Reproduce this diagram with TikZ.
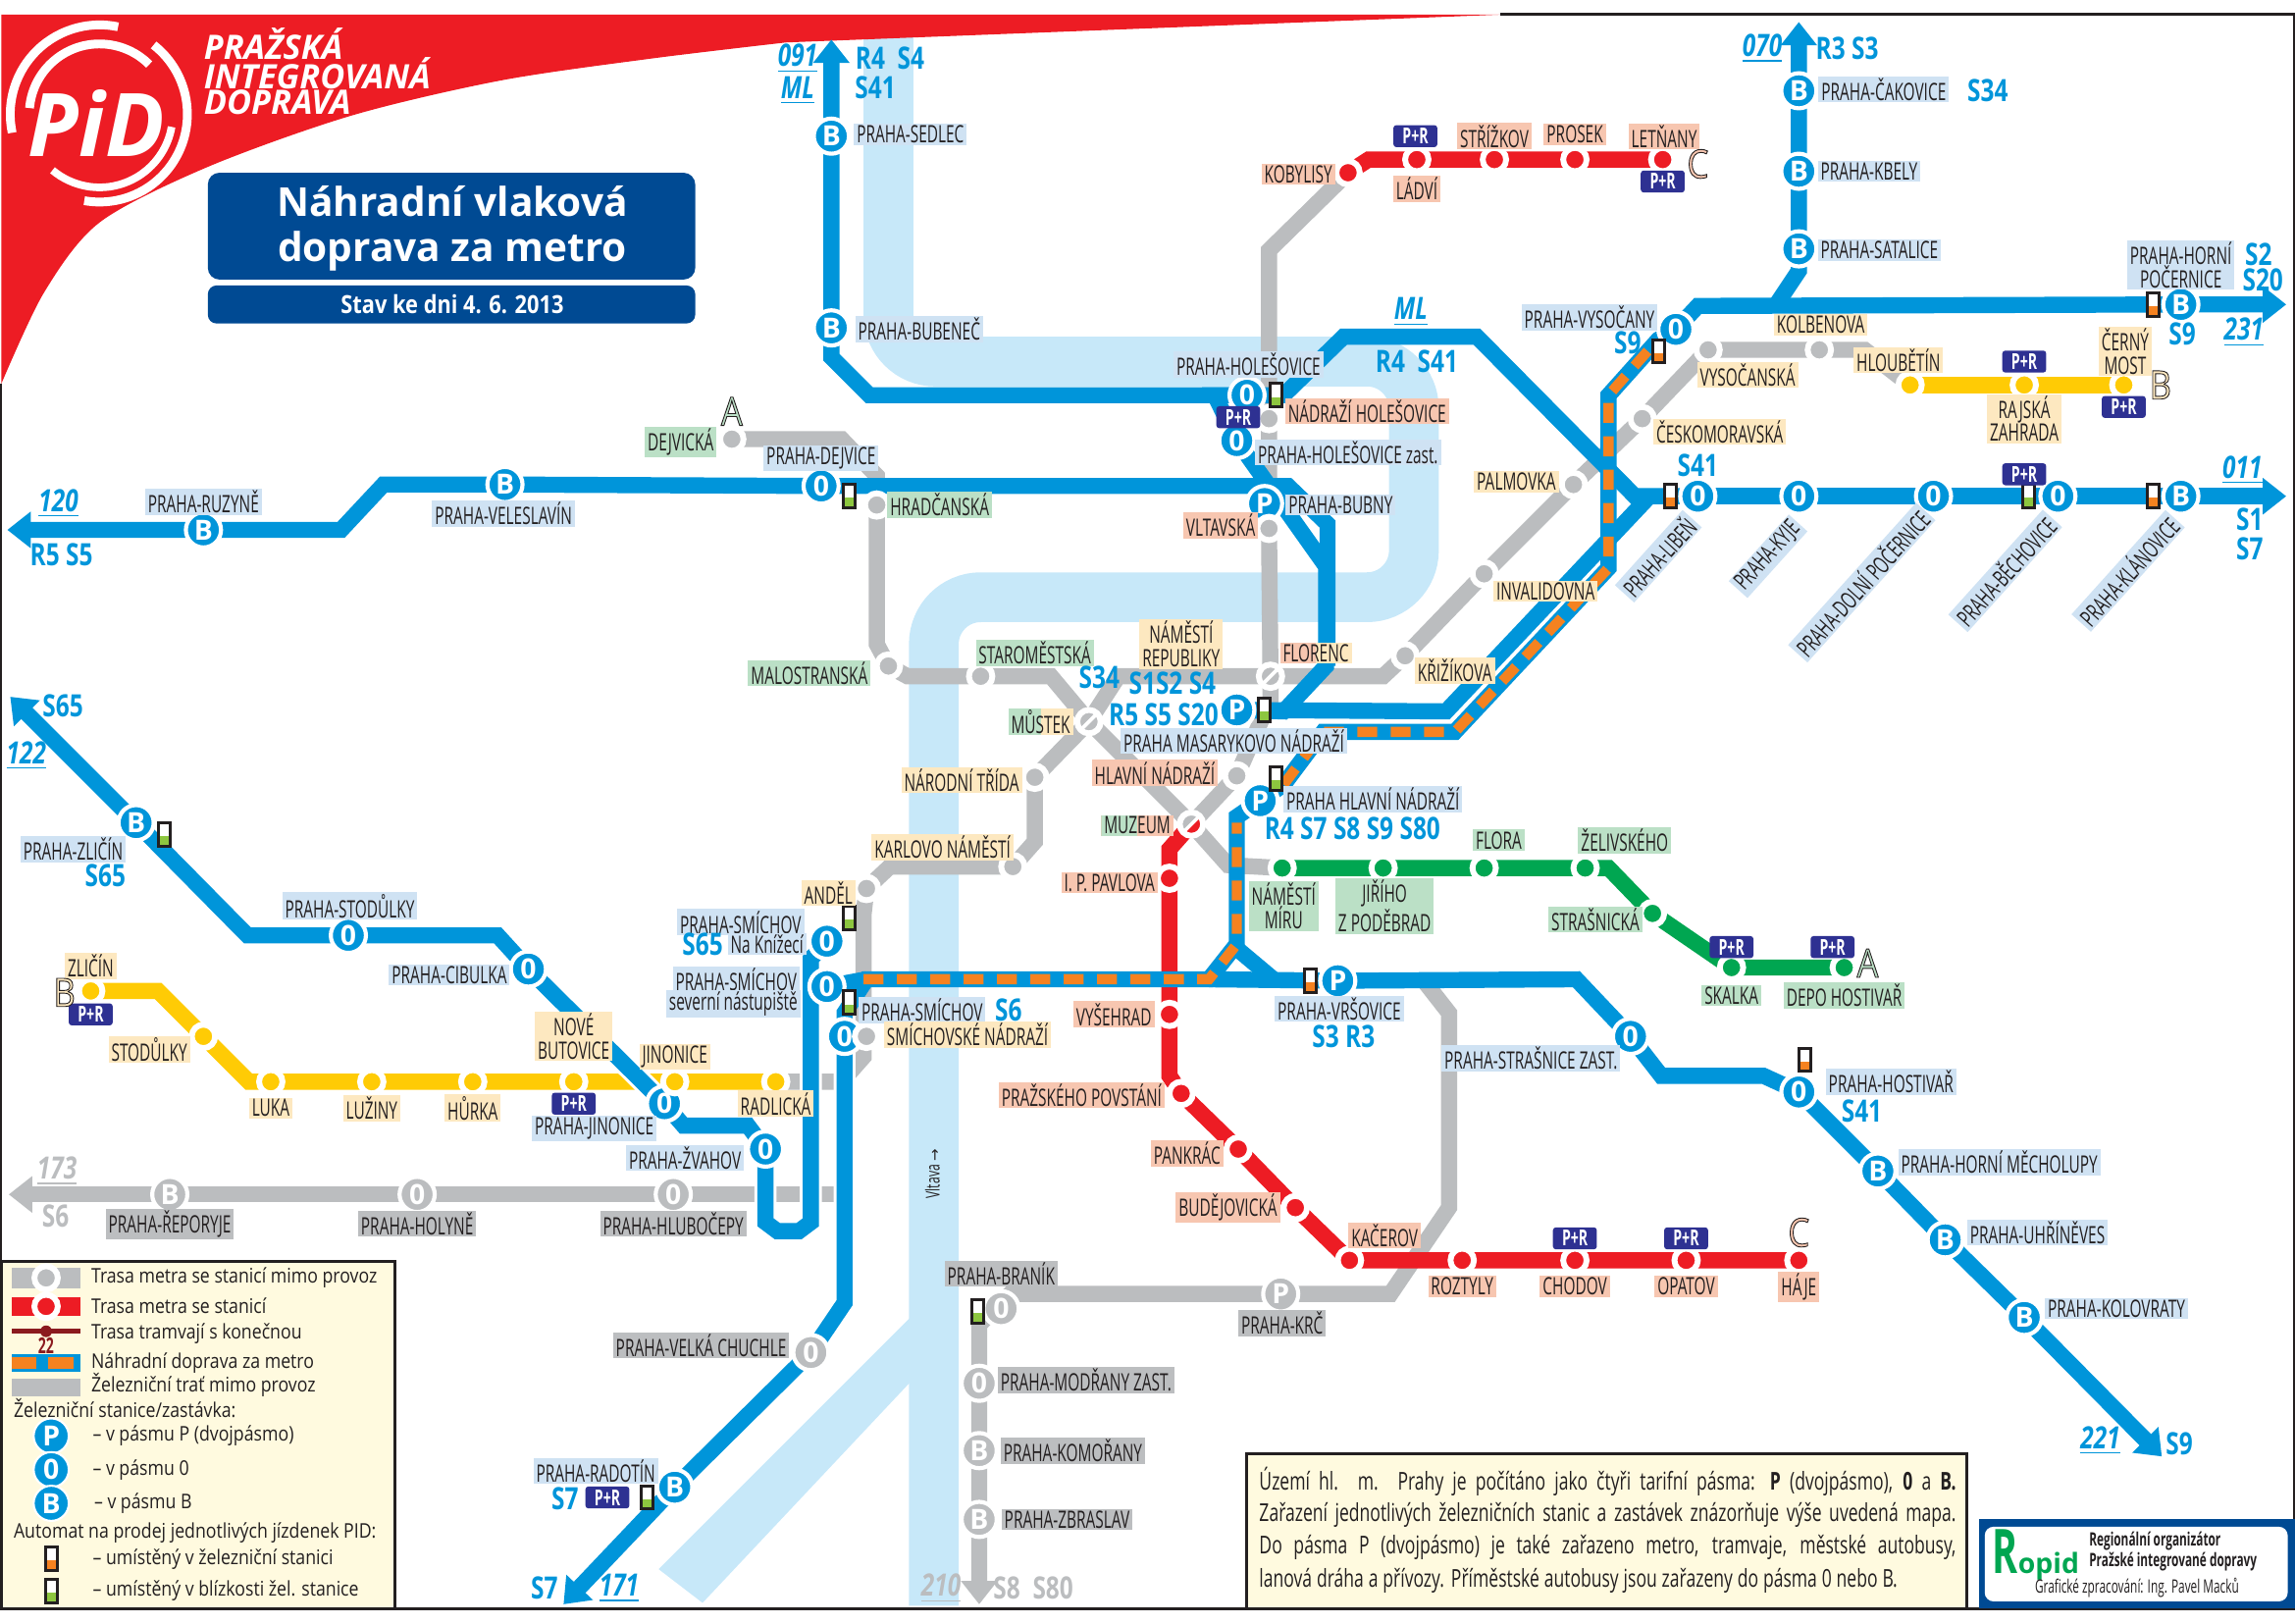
\documentclass[tikz,border=0pt]{standalone}
\usepackage{fontspec}
\usetikzlibrary{arrows.meta}
\setmainfont{Open Sans}
\newfontfamily\lblf[FakeStretch=0.63]{Open Sans}
\newfontfamily\bnf[FakeStretch=0.78]{Open Sans}
\newfontfamily\lgdf[FakeStretch=0.86]{Open Sans}
\newfontfamily\infof[FakeStretch=0.7]{Open Sans}
\newfontfamily\djvf{DejaVu Sans}
\definecolor{lblue}{HTML}{0095DA}
\definecolor{lgray}{HTML}{BBBDBF}
\definecolor{lred}{HTML}{ED1C24}
\definecolor{lyel}{HTML}{FFCB05}
\definecolor{lgrn}{HTML}{00A651}
\definecolor{lora}{HTML}{F58220}
\definecolor{lolv}{HTML}{8DC63F}
\definecolor{river}{HTML}{C7E8F9}
\definecolor{navy}{HTML}{004A93}
\definecolor{prbl}{HTML}{2E3192}
\definecolor{tblu}{HTML}{CFE2F3}
\definecolor{tgry}{HTML}{BCBEC0}
\definecolor{tsal}{HTML}{F7C6B0}
\definecolor{tyel}{HTML}{FDE8C0}
\definecolor{tgrn}{HTML}{BBE0C6}
\definecolor{cream}{HTML}{FFFADF}
\definecolor{ink}{HTML}{231F20}
\definecolor{tram}{HTML}{8B1A1E}
\newcommand{\outl}[1]{\special{pdf:code 2 Tr 0.3 w 0.14 0.12 0.12 RG}#1\special{pdf:code 0 Tr}}
\pgfdeclarelayer{baselayer}
\pgfdeclarelayer{linelayer}
\pgfsetlayers{baselayer,linelayer,main}
\tikzset{
 lab/.style={inner xsep=1pt,inner ysep=0.6pt,text=ink,align=center,
   font=\lblf\fontsize{8.2}{8}\selectfont},
 lr/.style={lab,fill=tblu},
 lg/.style={lab,fill=tgry},
 ls/.style={lab,fill=tsal},
 ly/.style={lab,fill=tyel},
 lv/.style={lab,fill=tgrn},
 ltwo/.style 2 args={lab,fill=#2,path picture={\fill[#1] (path picture bounding box.south west) rectangle (path picture bounding box.north);}},
 zn/.style={circle,fill=lblue,draw=white,line width=1.4pt,minimum size=12pt,inner sep=0,text=white,
   font=\bfseries\fontsize{9.5}{9.5}\selectfont},
 zg/.style={zn,fill=lgray},
 ms/.style={circle,draw=white,line width=2pt,minimum size=8pt,inner sep=0,fill=#1},
 mx/.style={ms=lgray,path picture={\draw[white,line width=1.2pt] (path picture bounding box.south west) -- (path picture bounding box.north east);}},
 aut/.style={rectangle,draw=ink,line width=1pt,fill=white,minimum width=4pt,minimum height=8pt,inner sep=0,
   path picture={\fill[#1] (path picture bounding box.south west) rectangle ([yshift=3.4pt]path picture bounding box.south east);}},
 pr/.style={rectangle,rounded corners=1pt,fill=prbl,text=white,minimum width=15pt,minimum height=7.5pt,inner sep=0,
   font=\lblf\bfseries\fontsize{7.5}{7.5}\selectfont},
 bn/.style={text=lblue,inner sep=0,font=\bnf\bfseries\fontsize{10.5}{10.5}\selectfont},
 gn/.style={bn,text=lgray},
 zone/.style={text=#1,inner sep=0,font=\lgdf\fontsize{13.5}{13.5}\selectfont},
 rail/.style={draw=#1,line width=5.5pt,line join=miter,miter limit=4},
 drail/.style={rail=lblue},
 cased/.style={preaction={draw=white,line width=7.5pt}},
 tipb/.style={-{Triangle[length=8pt,width=12pt]}},
 odash/.style={draw=lora,line width=3.5pt,dash pattern=on 6.8pt off 4.6pt},
 lgt/.style={anchor=west,inner sep=0,text=ink,font=\lgdf\fontsize{6.9}{6.9}\selectfont},
 hdr/.style={anchor=west,text=white,inner sep=0,font=\bfseries\itshape\fontsize{11.5}{11.5}\selectfont},
}
\begin{document}
\begin{tikzpicture}[x=0.5pt,y=-0.5pt]
\useasboundingbox (0,0) rectangle (1568,1108.8);
% ---------- arrow tips and free ends
\coordinate (t091) at (568,27);
\coordinate (t070) at (1229,15);
\coordinate (t231) at (1562,208);
\coordinate (t011) at (1562,339);
\coordinate (t120) at (5,362);
\coordinate (t122) at (7,476);
\coordinate (t173) at (6,816);
\coordinate (t221) at (1477,995);
\coordinate (t171) at (385,1096);
\coordinate (t210) at (669,1096);
% ---------- zone stations
\node[zn] (sedlec) at (568,93) {B};
\node[zn] (bubenec) at (568,224) {B};
\node[zn] (ruzyne) at (139,362) {B};
\node[zn] (velesl) at (345,331) {B};
\node[zn] (dejvice) at (561,332) {0};
\node[zn] (holes) at (852,270) {0};
\node[zn] (holesz) at (845,301) {0};
\node[zn] (bubny) at (864,344) {P};
\node[zn] (vysoc) at (1145,225) {0};
\node[zn] (cakov) at (1229,62) {B};
\node[zn] (kbely) at (1229,117) {B};
\node[zn] (satal) at (1229,170) {B};
\node[zn] (pocern) at (1490,208) {B};
\node[zn] (liben) at (1160,339) {0};
\node[zn] (kyje) at (1229,339) {0};
\node[zn] (dolni) at (1321,339) {0};
\node[zn] (bech) at (1406,339) {0};
\node[zn] (klan) at (1490,339) {B};
\node[zn] (masar) at (845,485) {P};
\node[zn] (hlavni) at (861,547) {P};
\node[zn] (vrsov) at (914,670) {P};
\node[zn] (strasz) at (1114,708) {0};
\node[zn] (hostiv) at (1229,746) {0};
\node[zn] (mechol) at (1283,800) {B};
\node[zn] (uhrin) at (1329,847) {B};
\node[zn] (kolov) at (1383,900) {B};
\node[zn] (zlicr) at (93,562) {B};
\node[zn] (stodr) at (238,639) {0};
\node[zn] (cibul) at (361,662) {0};
\node[zn] (jinon) at (454,754) {0};
\node[zn] (zvahov) at (523,785) {0};
\node[zn] (smkn) at (565,643) {0};
\node[zn] (smsev) at (565,674) {0};
\node[zn] (smnad) at (577,708) {0};
\node[zn] (radot) at (461,1016) {B};
\node[zg] (velch) at (554,924) {0};
\node[zg] (repor) at (116,816) {B};
\node[zg] (holyne) at (285,816) {0};
\node[zg] (hlub) at (460,816) {0};
\node[zg] (branik) at (684,894) {0};
\node[zg] (krc) at (875,884) {P};
\node[zg] (modr) at (669,945) {0};
\node[zg] (komor) at (669,991) {B};
\node[zg] (zbras) at (669,1038) {B};
% ---------- metro stops
\node[ms=lgray] (dejv) at (500,300) {};
\node[ms=lgray] (hradc) at (599,345) {};
\node[ms=lgray] (malos) at (607,455) {};
\node[ms=lgray] (starom) at (670,462) {};
\node[mx] (mustek) at (744,493) {};
\node[mx,path picture={\fill[lred] (path picture bounding box.south west) -- (path picture bounding box.north east) -- (path picture bounding box.south east) -- cycle;\draw[white,line width=1.2pt] (path picture bounding box.south west) -- (path picture bounding box.north east);}] (muzeum) at (814,563) {};
\node[mx] (florenc) at (868,462) {};
\node[ms=lgray] (hlnadr) at (845,530) {};
\node[ms=lgray] (narod) at (707,531) {};
\node[ms=lgray] (karlovo) at (692,592) {};
\node[ms=lgray] (andel) at (592,607) {};
\node[ms=lgray] (smichn) at (592,708) {};
\node[ms=lgray] (kriz) at (960,448) {};
\node[ms=lgray] (inval) at (1014,392) {};
\node[ms=lgray] (palm) at (1075,331) {};
\node[ms=lgray] (ceskom) at (1122,286) {};
\node[ms=lgray] (vysocan) at (1167,239) {};
\node[ms=lgray] (kolben) at (1243,239) {};
\node[ms=lgray] (nadrh) at (867,286) {};
\node[ms=lgray] (vltav) at (867,361) {};
\node[ms=lred] (kobyl) at (921,118) {};
\node[ms=lred] (ladvi) at (968,109) {};
\node[ms=lred] (strizk) at (1021,109) {};
\node[ms=lred] (prosek) at (1076,109) {};
\node[ms=lred] (letn) at (1136,109) {};
\node[ms=lred] (pavl) at (799,600) {};
\node[ms=lred] (vyseh) at (799,693) {};
\node[ms=lred] (povst) at (807,747) {};
\node[ms=lred] (pankr) at (846,785) {};
\node[ms=lred] (budej) at (885,825) {};
\node[ms=lred] (kacer) at (922,861) {};
\node[ms=lred] (rozt) at (999,861) {};
\node[ms=lred] (chod) at (1076,861) {};
\node[ms=lred] (opat) at (1152,861) {};
\node[ms=lred] (haje) at (1229,861) {};
\node[ms=lyel] (hloub) at (1305,263) {};
\node[ms=lyel] (rajs) at (1383,263) {};
\node[ms=lyel] (cerny) at (1451,263) {};
\node[ms=lyel] (zlicm) at (62,677) {};
\node[ms=lyel] (stodm) at (139,708) {};
\node[ms=lyel] (luka) at (185,739) {};
\node[ms=lyel] (luz) at (254,739) {};
\node[ms=lyel] (hurka) at (323,739) {};
\node[ms=lyel] (nbut) at (392,739) {};
\node[ms=lyel] (jinm) at (461,739) {};
\node[ms=lyel] (radl) at (530,739) {};
\node[ms=lgrn] (nmir) at (876,593) {};
\node[ms=lgrn] (jirih) at (945,593) {};
\node[ms=lgrn] (flora) at (1014,593) {};
\node[ms=lgrn] (zeliv) at (1083,593) {};
\node[ms=lgrn] (strasn) at (1129,624) {};
\node[ms=lgrn] (skalka) at (1183,661) {};
\node[ms=lgrn] (depo) at (1260,661) {};
% ---------- base: river, red corner
\begin{pgfonlayer}{baselayer}
\draw[river,line width=17pt,rounded corners=16pt] (607,20) -- (607,247) -- (966,247) -- (966,408) -- (638,408) -- (638,1097);
\fill[river] (622,900) -- (640,925) -- (480,1095) -- (450,1072) -- cycle;
\fill[lred] (1,10) -- (1025,10) -- plot[smooth] coordinates {(537,29) (445,40) (342,55) (240,79) (142,114) (68,152) (30,200) (1,262)} -- cycle;
\draw[ink,line width=1pt] (1025,9.5) -- (1567.5,9.5) -- (1567.5,1099) -- (0.5,1099) -- (0.5,262);
\end{pgfonlayer}
% ---------- lines
\begin{pgfonlayer}{linelayer}
% gray
\draw[rail=lgray,-{Triangle[length=8pt,width=12pt]}] (hlub.center) -- (holyne.center) -- (repor.center) -- (t173);
\draw[rail=lgray] (hlub.center) -- (571,816);
\draw[rail=lgray] (dejv.center) -- (575,300) -- (599,325) -- (hradc.center) -- (599,440) -- (malos.center) -- (620,462) -- (starom.center) -- (718,462) -- (mustek.center) -- (muzeum.center) -- (839,591) -- (nmir.center);
\draw[rail=lgray] (radl.center) -- (575,739) -- (590,722) -- (590,625) -- (andel.center) -- (608,592) -- (karlovo.center) -- (707,575) -- (narod.center) -- (mustek.center) -- (764,462) -- (florenc.center) -- (945,462) -- (kriz.center) -- (inval.center) -- (palm.center) -- (ceskom.center) -- (vysocan.center) -- (kolben.center) -- (1274,239) -- (hloub.center);
\draw[rail=lgray] (kobyl.center) -- (867,171) -- (nadrh.center) -- (vltav.center) -- (florenc.center) -- (868,478) -- (hlnadr.center) -- (muzeum.center);
\draw[rail=lgray,-{Triangle[length=8pt,width=12pt]}] (972,669) -- (990,692) -- (990,825) -- (950,884) -- (krc.center) -- (690,884) -- (669,905) -- (modr.center) -- (komor.center) -- (zbras.center) -- (t210);
% yellow, green, red
\draw[rail=lyel] (zlicm.center) -- (108,677) -- (stodm.center) -- (170,739) -- (luka.center) -- (luz.center) -- (hurka.center) -- (nbut.center) -- (jinm.center) -- (radl.center);
\draw[rail=lyel] (hloub.center) -- (rajs.center) -- (cerny.center);
\draw[rail=lgrn] (nmir.center) -- (jirih.center) -- (flora.center) -- (zeliv.center) -- (1099,593) -- (strasn.center) -- (skalka.center) -- (depo.center);
\draw[rail=lred] (kobyl.center) -- (935,109) -- (ladvi.center) -- (strizk.center) -- (prosek.center) -- (letn.center);
\draw[rail=lred] (muzeum.center) -- (799,580) -- (pavl.center) -- (vyseh.center) -- (799,735) -- (povst.center) -- (pankr.center) -- (budej.center) -- (kacer.center) -- (rozt.center) -- (chod.center) -- (opat.center) -- (haje.center);
% blue
\draw[drail,tipb,cased] (zlicr.center) -- (t122);
\draw[drail,cased] (zlicr.center) -- (169,639) -- (stodr.center) -- (340,639) -- (cibul.center) -- (jinon.center) -- (467,769) -- (511,769) -- (zvahov.center) -- (523,835) -- (531,841) -- (546,841) -- (554,835) -- (554,655) -- (smkn.center);
\draw[drail,tipb] (holes.center) -- (594,270) -- (568,244) -- (bubenec.center) -- (sedlec.center) -- (t091);
\draw[drail,tipb] (907,455) -- (907,358) -- (880,332) -- (dejvice.center) -- (velesl.center) -- (262,331) -- (233,362) -- (ruzyne.center) -- (t120);
\draw[drail] (holes.center) -- (830,270) -- (holesz.center) -- (906,387) -- (906,455) -- (877,486) -- (masar.center);
\draw[drail] (masar.center) -- (988,486) -- (1127,339);
\draw[drail] (holes.center) -- (877,270) -- (918,230) -- (1009,230) -- (1117,339) -- (liben.center);
\draw[drail,tipb] (liben.center) -- (kyje.center) -- (dolni.center) -- (bech.center) -- (klan.center) -- (t011);
\draw[drail,tipb] (vysoc.center) -- (1160,209) -- (pocern.center) -- (t231);
\draw[drail,tipb] (1213,209) -- (1229,185) -- (satal.center) -- (kbely.center) -- (cakov.center) -- (t070);
\draw[drail,tipb,cased] (smnad.center) -- (577,890) -- (velch.center) -- (radot.center) -- (t171);
\draw[drail] (smnad.center) -- (577,692) -- (592,669) -- (826,669) -- (845,645) -- (845,558) -- (hlavni.center);
\draw[drail] (smsev.center) -- (592,669);
\draw[drail] (845,648) -- (870,669);
\draw[drail,tipb] (826,669) -- (vrsov.center) -- (1077,669) -- (strasz.center) -- (1135,735) -- (1205,735) -- (hostiv.center) -- (mechol.center) -- (uhrin.center) -- (kolov.center) -- (t221);
\draw[drail] (hlavni.center) -- (877,536) -- (904,500) -- (994,500) -- (1099,388) -- (1099,270) -- (1133,232) -- (vysoc.center);
% orange dashes
\draw[odash] (590,669) -- (826,669) -- (845,645) -- (845,562);
\draw[odash] (877,536) -- (904,500) -- (994,500) -- (1099,388) -- (1099,270) -- (1130,235);
\end{pgfonlayer}
% ---------- vending machines
\node[aut=lolv] (a1) at (580,339) {};
\node[aut=lolv] (a2) at (872,270) {};
\node[aut=lora] (a3) at (1133,240) {};
\node[aut=lora] (a4) at (1141,339) {};
\node[aut=lolv] (a5) at (1386,339) {};
\node[aut=lora] (a6) at (1471,339) {};
\node[aut=lora] (a7) at (1471,208) {};
\node[aut=lolv] (a8) at (864,485) {};
\node[aut=lolv] (a9) at (872,532) {};
\node[aut=lora] (a10) at (895,670) {};
\node[aut=lora] (a11) at (1233,724) {};
\node[aut=lolv] (a12) at (112,570) {};
\node[aut=lolv] (a13) at (580,627) {};
\node[aut=lolv] (a14) at (580,685) {};
\node[aut=lolv] (a15) at (668,896) {};
\node[aut=lolv] (a16) at (442,1023) {};
% ---------- P+R
\node[pr] (p1) at (967,93) {P+R};
\node[pr] (p2) at (1136,124) {P+R};
\node[pr] (p3) at (1383,247) {P+R};
\node[pr] (p4) at (1451,278) {P+R};
\node[pr] (p5) at (846,285) {P+R};
\node[pr] (p6) at (1383,324) {P+R};
\node[pr] (p7) at (1183,647) {P+R};
\node[pr] (p8) at (1252,647) {P+R};
\node[pr] (p9) at (62,693) {P+R};
\node[pr] (p10) at (392,754) {P+R};
\node[pr] (p11) at (1076,846) {P+R};
\node[pr] (p12) at (1152,846) {P+R};
\node[pr] (p13) at (415,1023) {P+R};
% ---------- railway labels
\node[lr] (l1) at (622,92) {PRAHA-SEDLEC};
\node[lr] (l2) at (628,225) {PRAHA-BUBENEČ};
\node[lr] (l3) at (139,343) {PRAHA-RUZYNĚ};
\node[lr] (l4) at (344,351) {PRAHA-VELESLAVÍN};
\node[lr] (l5) at (561,313) {PRAHA-DEJVICE};
\node[lr] (l6) at (853,249) {PRAHA-HOLEŠOVICE};
\node[lr] (l7) at (921,309) {PRAHA-HOLEŠOVICE zast.};
\node[lr] (l8) at (916,345) {PRAHA-BUBNY};
\node[lr] (l9) at (1086,217) {PRAHA-VYSOČANY};
\node[lr] (l10) at (1287,61) {PRAHA-ČAKOVICE};
\node[lr] (l11) at (1277,117) {PRAHA-KBELY};
\node[lr] (l12) at (1284,171) {PRAHA-SATALICE};
\node[lr] (l13) at (1490,181) {PRAHA-HORNÍ\\POČERNICE};
\node[lr,rotate=48] (l14) at (1133,380) {PRAHA-LIBEŇ};
\node[lr,rotate=48] (l15) at (1208,380) {PRAHA-KYJE};
\node[lr,rotate=48] (l16) at (1272,398) {PRAHA-DOLNÍ POČERNICE};
\node[lr,rotate=48] (l17) at (1370,390) {PRAHA-BĚCHOVICE};
\node[lr,rotate=48] (l18) at (1454,390) {PRAHA-KLÁNOVICE};
\node[lr] (l19) at (843,506) {PRAHA MASARYKOVO NÁDRAŽÍ};
\node[lr] (l20) at (938,546) {PRAHA HLAVNÍ NÁDRAŽÍ};
\node[lr] (l21) at (915,689) {PRAHA-VRŠOVICE};
\node[lr] (l22) at (1046,723) {PRAHA-STRAŠNICE ZAST.};
\node[lr] (l23) at (1292,739) {PRAHA-HOSTIVAŘ};
\node[lr] (l24) at (1366,794) {PRAHA-HORNÍ MĚCHOLUPY};
\node[lr] (l25) at (1392,842) {PRAHA-UHŘÍNĚVES};
\node[lr] (l26) at (1446,894) {PRAHA-KOLOVRATY};
\node[lr] (l27) at (506,630) {PRAHA-SMÍCHOV};
\node[lr] (l28) at (524,645) {Na Knížecí};
\node[lr] (l29) at (503,669) {PRAHA-SMÍCHOV};
\node[lr] (l30) at (501,686) {severní nástupiště};
\node[lr] (l31) at (630,690) {PRAHA-SMÍCHOV};
\node[lr] (l32) at (50,580) {PRAHA-ZLIČÍN};
\node[lr] (l33) at (239,619) {PRAHA-STODŮLKY};
\node[lr] (l34) at (307,666) {PRAHA-CIBULKA};
\node[lr] (l35) at (406,771) {PRAHA-JINONICE};
\node[lr] (l36) at (468,791) {PRAHA-ŽVAHOV};
\node[lr] (l37) at (407,1005) {PRAHA-RADOTÍN};
% ---------- out of service railway labels
\node[lg] (g1) at (479,919) {PRAHA-VELKÁ CHUCHLE};
\node[lg] (g2) at (684,870) {PRAHA-BRANÍK};
\node[lg] (g3) at (876,904) {PRAHA-KRČ};
\node[lg] (g4) at (742,943) {PRAHA-MODŘANY ZAST.};
\node[lg] (g5) at (733,991) {PRAHA-KOMOŘANY};
\node[lg] (g6) at (729,1038) {PRAHA-ZBRASLAV};
\node[lg] (g7) at (116,836) {PRAHA-ŘEPORYJE};
\node[lg] (g8) at (285,836) {PRAHA-HOLYNĚ};
\node[lg] (g9) at (460,836) {PRAHA-HLUBOČEPY};
% ---------- metro labels
\node[ls] (m1) at (887,119) {KOBYLISY};
\node[ls] (m2) at (968,129) {LÁDVÍ};
\node[ls] (m3) at (1021,93) {STŘÍŽKOV};
\node[ls] (m4) at (1076,92) {PROSEK};
\node[ls] (m5) at (1137,93) {LETŇANY};
\node[ls] (m6) at (934,281) {NÁDRAŽÍ HOLEŠOVICE};
\node[ls] (m7) at (834,359) {VLTAVSKÁ};
\node[ltwo={tsal}{tyel}] (m8) at (899,446) {FLORENC};
\node[ls] (m9) at (789,528) {HLAVNÍ NÁDRAŽÍ};
\node[ls] (m10) at (758,603) {I. P. PAVLOVA};
\node[ls] (m11) at (761,693) {VYŠEHRAD};
\node[ls] (m12) at (739,748) {PRAŽSKÉHO POVSTÁNÍ};
\node[ls] (m13) at (811,788) {PANKRÁC};
\node[ls] (m14) at (839,825) {BUDĚJOVICKÁ};
\node[ls] (m15) at (946,844) {KAČEROV};
\node[ls] (m16) at (999,879) {ROZTYLY};
\node[ls] (m17) at (1076,879) {CHODOV};
\node[ls] (m18) at (1152,879) {OPATOV};
\node[ls] (m19) at (1229,879) {HÁJE};
\node[ly] (y1) at (1297,246) {HLOUBĚTÍN};
\node[ly] (y2) at (1383,286) {RAJSKÁ\\ZAHRADA};
\node[ly] (y3) at (1452,240) {ČERNÝ\\MOST};
\node[ly] (y4) at (1244,222) {KOLBENOVA};
\node[ly] (y5) at (1194,256) {VYSOČANSKÁ};
\node[ly] (y6) at (1175,295) {ČESKOMORAVSKÁ};
\node[ly] (y7) at (1036,329) {PALMOVKA};
\node[ly] (y8) at (1056,404) {INVALIDOVNA};
\node[ly] (y9) at (994,458) {KŘIŽÍKOVA};
\node[ly] (y10) at (807,440) {NÁMĚSTÍ\\REPUBLIKY};
\node[ltwo={tgrn}{tyel}] (y11) at (711,493) {MŮSTEK};
\node[ly] (y12) at (657,533) {NÁRODNÍ TŘÍDA};
\node[ly] (y13) at (644,579) {KARLOVO NÁMĚSTÍ};
\node[ly] (y14) at (566,610) {ANDĚL};
\node[ly] (y15) at (461,722) {JINONICE};
\node[ly] (y16) at (530,754) {RADLICKÁ};
\node[ly] (y17) at (392,708) {NOVÉ\\BUTOVICE};
\node[ly] (y18) at (185,757) {LUKA};
\node[ly] (y19) at (254,757) {LUŽINY};
\node[ly] (y20) at (323,757) {HŮRKA};
\node[ly] (y21) at (102,717) {STODŮLKY};
\node[ly] (y22) at (62,660) {ZLIČÍN};
\node[ly] (y23) at (661,707) {SMÍCHOVSKÉ NÁDRAŽÍ};
\node[lv] (v1) at (465,302) {DEJVICKÁ};
\node[lv] (v2) at (642,345) {HRADČANSKÁ};
\node[lv] (v3) at (553,460) {MALOSTRANSKÁ};
\node[lv] (v4) at (707,446) {STAROMĚSTSKÁ};
\node[ltwo={tgrn}{tsal}] (v5) at (777,564) {MUZEUM};
\node[lv] (v6) at (877,619) {NÁMĚSTÍ\\MÍRU};
\node[lv] (v7) at (946,619) {JIŘÍHO\\Z PODĚBRAD};
\node[lv] (v8) at (1024,574) {FLORA};
\node[lv] (v9) at (1110,574) {ŽELIVSKÉHO};
\node[lv] (v10) at (1090,628) {STRAŠNICKÁ};
\node[lv] (v11) at (1183,680) {SKALKA};
\node[lv] (v12) at (1260,680) {DEPO HOSTIVAŘ};
% ---------- line letters
\node[zone=tgrn] (za1) at (500,281) {\outl{A}};
\node[zone=tgrn] (za2) at (1276,658) {\outl{A}};
\node[zone=tsal] (zc1) at (1160,112) {\outl{C}};
\node[zone=tsal] (zc2) at (1229,842) {\outl{C}};
\node[zone=tyel] (zb1) at (1476,263) {\outl{B}};
\node[zone=tyel] (zb2) at (44,678) {\outl{B}};
% ---------- service names
\node[bn] (n1) at (545,40) {\itshape\underline{091}};
\node[bn] (n2) at (545,62) {\itshape\underline{ML}};
\node[bn] (n3) at (608,40) {R4\ \ S4};
\node[bn] (n4) at (598,60) {S41};
\node[bn] (n5) at (1204,33) {\itshape\underline{070}};
\node[bn] (n6) at (1262,33) {R3 S3};
\node[bn] (n7) at (1358,62) {S34};
\node[bn] (n8) at (964,213) {\itshape\underline{ML}};
\node[bn] (n9) at (968,247) {R4 \ S41};
\node[bn] (n10) at (1112,234) {S9};
\node[bn] (n11) at (1160,318) {S41};
\node[bn] (n12) at (1532,321) {\itshape\underline{011}};
\node[bn] (n13) at (1537,355) {S1};
\node[bn] (n14) at (1537,375) {S7};
\node[bn] (n15) at (1543,174) {S2};
\node[bn] (n16) at (1546,191) {S20};
\node[bn] (n17) at (1491,228) {S9};
\node[bn] (n18) at (1533,227) {\itshape\underline{231}};
\node[bn] (n19) at (40,344) {\itshape\underline{120}};
\node[bn] (n20) at (42,379) {R5 S5};
\node[bn] (n21) at (43,482) {S65};
\node[bn] (n22) at (18,516) {\itshape\underline{122}};
\node[bn] (n23) at (72,598) {S65};
\node[bn] (n24) at (480,645) {S65};
\node[bn] (n25) at (689,690) {S6};
\node[bn] (n26) at (751,463) {S34};
\node[bn] (n27) at (801,467) {S1S2 S4};
\node[bn] (n28) at (795,488) {R5 S5 S20};
\node[bn] (n29) at (924,566) {R4 S7 S8 S9 S80};
\node[bn] (n30) at (918,708) {S3 R3};
\node[bn] (n31) at (1272,759) {S41};
\node[bn] (n32) at (1489,986) {S9};
\node[bn] (n33) at (1435,984) {\itshape\underline{221}};
\node[bn] (n34) at (423,1085) {\itshape\underline{171}};
\node[bn] (n35) at (372,1085) {S7};
\node[bn] (n36) at (386,1024) {S7};
\node[gn] (n37) at (643,1085) {\itshape\underline{210}};
\node[gn] (n38) at (706,1085) {S8 \ S80};
\node[gn] (n39) at (39,800) {\itshape\underline{173}};
\node[gn] (n40) at (38,831) {S6};
\node[rotate=90,inner sep=0,text=ink,font=\lblf\fontsize{6.5}{6.5}\selectfont] (vlt) at (637,802) {Vltava {\djvf\fontsize{5}{5}\selectfont →}};
% ---------- header
\coordinate (lc) at (68,78);
\begin{scope}[white,line cap=butt]
\draw[line width=3pt] ([shift={(78:30.5pt)}]lc) arc[start angle=78,end angle=192,radius=30.5pt];
\draw[line width=3pt] ([shift={(175:24pt)}]lc) arc[start angle=175,end angle=45,radius=24pt];
\draw[line width=3pt] ([shift={(52:30pt)}]lc) arc[start angle=52,end angle=-100,radius=30pt];
\draw[line width=2.6pt] ([shift={(-10:25pt)}]lc) arc[start angle=-10,end angle=-130,radius=25pt];
\end{scope}
\node[text=white,inner sep=0,font=\bfseries\itshape\fontsize{30}{30}\selectfont] (pidlogo) at (66,84) {PiD};
\node[hdr] (ph1) at (139,30) {PRAŽSKÁ};
\node[hdr] (ph2) at (139,50) {INTEGROVANÁ};
\node[hdr] (ph3) at (139,70) {DOPRAVA};
\fill[navy,rounded corners=4pt] (142,191) -- (142,118) -- (475,118) -- (475,191) -- cycle;
\fill[navy,rounded corners=3pt] (142,195) rectangle (475,221);
\node[text=white,inner sep=0,align=center,font=\bfseries\fontsize{13.6}{15.2}\selectfont] (title) at (309,156) {Náhradní vlaková\\doprava za metro};
\node[text=white,inner sep=0,font=\lgdf\bfseries\fontsize{8.5}{8.5}\selectfont] (stav) at (309,207.5) {Stav ke dni 4. 6. 2013};
% ---------- legend
\draw[ink,fill=cream,line width=1pt] (1,862) rectangle (269.5,1099);
\fill[lgray] (8,866) rectangle (55,880);
\node[ms=lgray] (k1) at (31.5,873) {};
\fill[lred] (8,886) rectangle (55,899);
\node[ms=lred] (k2) at (31.5,892.5) {};
\fill[tram] (8,908) rectangle (55,911);
\node[circle,fill=tram,minimum size=4pt,inner sep=0] (k3) at (31.5,909.5) {};
\node[text=tram,inner sep=0,font=\lblf\bfseries\fontsize{7.5}{7.5}\selectfont] (k3t) at (31.5,919) {22};
\fill[lblue] (8,925) rectangle (55,937);
\fill[lora] (8,927) rectangle (25,935);
\fill[lora] (33,927) rectangle (50,935);
\fill[lgray] (8,942) rectangle (55,954);
\node[lgt] (tx1) at (62,873) {Trasa metra se stanicí mimo provoz};
\node[lgt] (tx2) at (62,892) {Trasa metra se stanicí};
\node[lgt] (tx3) at (62,911) {Trasa tramvají s konečnou};
\node[lgt] (tx4) at (62,931) {Náhradní doprava za metro};
\node[lgt] (tx5) at (62,946) {Železniční trať mimo provoz};
\node[lgt] (tx6) at (9,962) {Železniční stanice/zastávka:};
\node[zn,line width=0.7pt] (k4) at (35,981) {P};
\node[lgt] (tx7) at (63,981) {– v pásmu P (dvojpásmo)};
\node[zn,line width=0.7pt] (k5) at (35,1004) {0};
\node[lgt] (tx8) at (63,1004) {– v pásmu 0};
\node[zn,line width=0.7pt] (k6) at (35,1027) {B};
\node[lgt] (tx9) at (64,1027) {– v pásmu B};
\node[lgt] (tx10) at (9,1047) {Automat na prodej jednotlivých jízdenek PID:};
\node[aut=lora] (k7) at (35,1065) {};
\node[lgt] (tx11) at (63,1065) {– umístěný v železniční stanici};
\node[aut=lolv] (k8) at (35,1087) {};
\node[lgt] (tx12) at (63,1087) {– umístěný v blízkosti žel. stanice};
% ---------- info box
\draw[ink,fill=cream,line width=1pt] (852,993) rectangle (1344,1099);
\begin{scope}[every node/.style={anchor=west,inner sep=0,text=ink,font=\infof\fontsize{8.4}{8.4}\selectfont}]
\node (i1) at (860,1012) {\makebox[238pt][s]{Území hl. m. Prahy je počítáno jako čtyři tarifní pásma: \textbf{P} (dvojpásmo), \textbf{0} a \textbf{B.}}};
\node (i2) at (860,1035) {\makebox[238pt][s]{Zařazení jednotlivých železničních stanic a zastávek znázorňuje výše uvedená mapa.}};
\node (i3) at (860,1057) {\makebox[238pt][s]{Do pásma P (dvojpásmo) je také zařazeno metro, tramvaje, městské autobusy,}};
\node (i4) at (860,1080) {\makebox[218pt][s]{lanová dráha a přívozy. Příměstské autobusy jsou zařazeny do pásma 0 nebo B.}};
\end{scope}
% ---------- Ropid box
\fill[navy] (1352,1038) rectangle (1568,1099);
\fill[white,rounded corners=3pt] (1356,1043) rectangle (1563,1094);
\node[anchor=west,inner sep=0,text=lgrn,font=\bfseries\fontsize{9.5}{9.5}\selectfont] (ropid) at (1361,1062) {{\lblf\fontsize{21}{21}\selectfont R}opid};
\node[anchor=west,inner sep=0,text=ink,font=\lblf\bfseries\fontsize{6.3}{6.3}\selectfont] (r1) at (1427,1053) {Regionální organizátor};
\node[anchor=west,inner sep=0,text=ink,font=\lblf\bfseries\fontsize{6.3}{6.3}\selectfont] (r2) at (1427,1067) {Pražské integrované dopravy};
\node[inner sep=0,text=ink,font=\lblf\fontsize{6.3}{6.3}\selectfont] (r3) at (1460,1085) {Grafické zpracování: Ing. Pavel Macků};
\end{tikzpicture}
\end{document}
